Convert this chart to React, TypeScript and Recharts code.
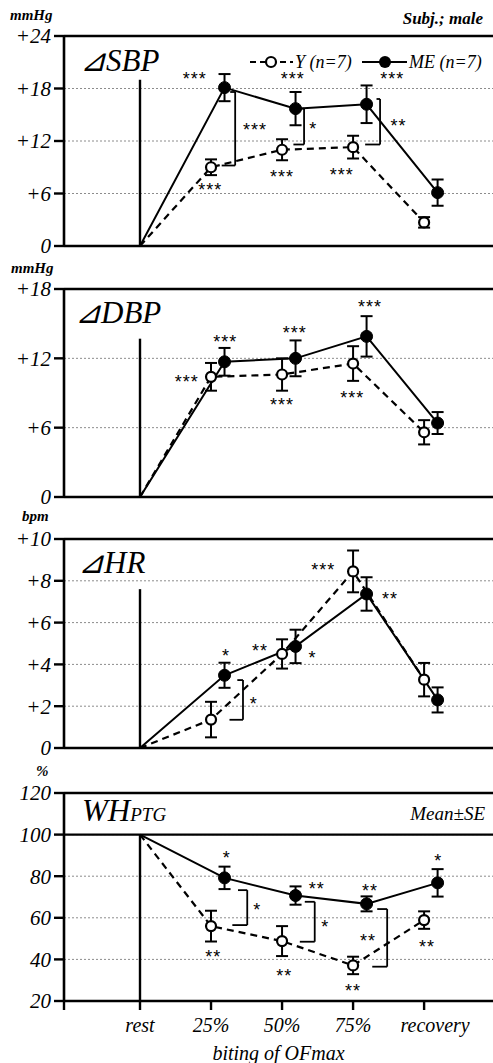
import React from "react";
import {
  ComposedChart,
  Line,
  XAxis,
  YAxis,
  CartesianGrid,
  ReferenceLine,
  ErrorBar,
  Scatter,
} from "recharts";

const SERIF = '"Liberation Serif", "Times New Roman", serif';
const STAR_FONT = '"Liberation Sans", Arial, sans-serif';
const W = 493;
const H = 1063;
const PAD = 14;
const X_DOMAIN = [-1.07, 4.97];

const categories = ["rest", "25%", "50%", "75%", "recovery"];
const catPos = [0, 1, 2, 3, 4];
const meShift = 0.19;

// ⊿SBP (mmHg)
const sbpTicks = [0, 6, 12, 18, 24];
const sbpY = [0, 9.0, 11.0, 11.3, 2.7];
const sbpYSe = [null, 0.9, 1.2, 1.3, 0.6];
const sbpME = [0, 18.1, 15.7, 16.2, 6.1];
const sbpMESe = [null, 1.55, 1.9, 2.15, 1.5];
const sbpStars = [
  { x: 0.77, y: 19.5, t: "***" },
  { x: 2.15, y: 19.5, t: "***" },
  { x: 3.55, y: 19.6, t: "***" },
  { x: 1.62, y: 13.7, t: "***" },
  { x: 2.44, y: 13.8, t: "*" },
  { x: 3.64, y: 14.2, t: "**" },
  { x: 0.99, y: 6.9, t: "***" },
  { x: 2.0, y: 8.4, t: "***" },
  { x: 2.84, y: 8.6, t: "***" },
];
const sbpBrackets = [
  { x: 1.34, y1: 17.6, y2: 9.2, a1: 0.07, a2: 0.19 },
  { x: 2.31, y1: 15.7, y2: 11.6, a1: 0.08, a2: 0.15 },
  { x: 3.38, y1: 16.8, y2: 11.6, a1: 0.05, a2: 0.21 },
];

// ⊿DBP (mmHg)
const dbpTicks = [0, 6, 12, 18];
const dbpY = [0, 10.4, 10.6, 11.55, 5.6];
const dbpYSe = [null, 1.2, 1.4, 1.5, 1.05];
const dbpME = [0, 11.7, 12.0, 13.9, 6.4];
const dbpMESe = [null, 1.2, 1.55, 1.75, 0.95];
const dbpStars = [
  { x: 1.2, y: 13.8, t: "***" },
  { x: 0.66, y: 10.3, t: "***" },
  { x: 2.18, y: 14.5, t: "***" },
  { x: 2.0, y: 8.3, t: "***" },
  { x: 3.24, y: 16.8, t: "***" },
  { x: 2.99, y: 8.9, t: "***" },
];

// ⊿HR (bpm)
const hrTicks = [0, 2, 4, 6, 8, 10];
const hrY = [0, 1.36, 4.5, 8.45, 3.27];
const hrYSe = [null, 0.85, 0.7, 1.0, 0.8];
const hrME = [0, 3.48, 4.86, 7.37, 2.3];
const hrMESe = [null, 0.6, 0.8, 0.8, 0.6];
const hrStars = [
  { x: 1.21, y: 4.6, t: "*" },
  { x: 1.69, y: 4.85, t: "**" },
  { x: 2.43, y: 4.5, t: "*" },
  { x: 2.58, y: 8.7, t: "***" },
  { x: 3.52, y: 7.3, t: "**" },
  { x: 1.6, y: 2.3, t: "*" },
];
const hrBrackets = [{ x: 1.45, y1: 3.25, y2: 1.35, a1: 0.08, a2: 0.19 }];

// WH PTG (%)
const whTicks = [20, 40, 60, 80, 100, 120];
const whY = [100, 56, 48.8, 37.1, 58.9];
const whYSe = [null, 7.4, 7.2, 4.2, 4.2];
const whME = [100, 79.2, 70.7, 66.7, 76.8];
const whMESe = [null, 5.4, 4.4, 3.6, 6.6];
const whStars = [
  { x: 1.22, y: 90.9, t: "*" },
  { x: 1.03, y: 42.9, t: "**" },
  { x: 1.65, y: 65.6, t: "*" },
  { x: 2.49, y: 75.7, t: "**" },
  { x: 2.03, y: 34.1, t: "**" },
  { x: 2.61, y: 57.6, t: "*" },
  { x: 3.24, y: 74.9, t: "**" },
  { x: 3.21, y: 50.9, t: "**" },
  { x: 3.0, y: 26.6, t: "**" },
  { x: 4.2, y: 89, t: "*" },
  { x: 4.04, y: 47.7, t: "**" },
];
const whBrackets = [
  { x: 1.51, y1: 73.3, y2: 56.5, a1: 0.13, a2: 0.21 },
  { x: 2.46, y1: 67.7, y2: 48.5, a1: 0.14, a2: 0.21 },
  { x: 3.48, y1: 64.2, y2: 36.5, a1: 0.14, a2: 0.21 },
];

type Star = { x: number; y: number; t: string };
type Bracket = { x: number; y1: number; y2: number; a1: number; a2: number };

const toSeries = (vals: number[], se: (number | null)[], shift: number) =>
  catPos.map((p, i) => ({ x: i === 0 ? p : p + shift, v: vals[i], se: se[i] }));

const OpenDot = (p: any) =>
  p.index === 0 ? (
    <g key={p.index} />
  ) : (
    <circle key={p.index} cx={p.cx} cy={p.cy} r={5} fill="#fff" stroke="#000" strokeWidth={2.2} />
  );

const FilledDot = (p: any) =>
  p.index === 0 ? (
    <g key={p.index} />
  ) : (
    <circle key={p.index} cx={p.cx} cy={p.cy} r={6} fill="#000" stroke="#000" strokeWidth={1} />
  );

const StarText = (p: any) => (
  <text x={p.cx} y={p.cy + 10} textAnchor="middle" fontSize={18} fontFamily={STAR_FONT} letterSpacing={1} fill="#000">
    {p.payload.t}
  </text>
);

const XTick = (p: any) => {
  const i = p.payload.value;
  if (!Number.isInteger(i)) return <g />;
  const dx = i === 4 ? 11 : 0;
  return (
    <text x={p.x + dx} y={p.y} dy={20} textAnchor="middle" fontSize={20} fontStyle="italic" fontFamily={SERIF} fill="#000">
      {categories[i]}
    </text>
  );
};

const axisLine = { stroke: "#000", strokeWidth: 2.6 };

function Panel(props: {
  top: number;
  height: number;
  ticks: number[];
  plus: boolean;
  yVals: number[];
  ySe: (number | null)[];
  meVals: number[];
  meSe: (number | null)[];
  stars: Star[];
  brackets: Bracket[];
  restTop: number;
  solidY?: number;
  last?: boolean;
}) {
  const { top, height, ticks, plus, stars, brackets, restTop, solidY, last } = props;
  const min = ticks[0];
  const max = ticks[ticks.length - 1];
  const xh = last ? 1063 - (top + height) : 14;
  const yData = toSeries(props.yVals, props.ySe, 0);
  const meData = toSeries(props.meVals, props.meSe, meShift);
  const xTicks = last ? [X_DOMAIN[0], ...catPos] : catPos;

  return (
    <div style={{ position: "absolute", left: 0, top: top - PAD }}>
      <ComposedChart
        width={W}
        height={height + PAD + xh}
        margin={{ top: PAD, right: 0, bottom: 0, left: 0 }}>
        <CartesianGrid vertical={false} stroke="#8c8c8c" strokeDasharray="2 2" />
        <XAxis
          dataKey="x"
          type="number"
          domain={X_DOMAIN}
          ticks={xTicks}
          interval={0}
          allowDataOverflow
          height={xh}
          tickSize={9}
          tickLine={{ stroke: "#000", strokeWidth: 2.4 }}
          axisLine={axisLine}
          tick={last ? <XTick /> : false}
          label={
            last
              ? {
                  value: "biting of OFmax",
                  position: "insideBottom",
                  offset: 3,
                  fill: "#000",
                  fontSize: 20,
                  fontStyle: "italic",
                  fontFamily: SERIF,
                }
              : undefined
          }
        />
        <XAxis
          xAxisId="top"
          orientation="top"
          dataKey="x"
          type="number"
          domain={X_DOMAIN}
          ticks={catPos}
          interval={0}
          allowDataOverflow
          height={0}
          mirror
          tickSize={6}
          axisLine={false}
          tickLine={{ stroke: "#000", strokeWidth: 2 }}
          tick={false}
        />
        <YAxis
          type="number"
          domain={[min, max]}
          ticks={ticks}
          interval={0}
          allowDataOverflow
          width={64}
          tickSize={10}
          tickMargin={3}
          axisLine={axisLine}
          tickLine={{ stroke: "#000", strokeWidth: 2.4 }}
          tickFormatter={(v: number) => (plus && v !== 0 ? `+${v}` : `${v}`)}
          tick={{ fill: "#000", fontSize: 21, fontStyle: "italic", fontFamily: SERIF }}
        />
        <ReferenceLine y={max} stroke="#000" strokeWidth={2.6} />
        {solidY !== undefined && <ReferenceLine y={solidY} stroke="#000" strokeWidth={2.4} />}
        <ReferenceLine
          segment={[
            { x: 0, y: min },
            { x: 0, y: restTop },
          ]}
          stroke="#000"
          strokeWidth={2.4}
        />
        {brackets.map((b, i) => [
          <ReferenceLine
            key={`bv${i}`}
            segment={[
              { x: b.x, y: b.y1 },
              { x: b.x, y: b.y2 },
            ]}
            stroke="#000"
            strokeWidth={1.8}
          />,
          <ReferenceLine
            key={`bt${i}`}
            segment={[
              { x: b.x - b.a1, y: b.y1 },
              { x: b.x, y: b.y1 },
            ]}
            stroke="#000"
            strokeWidth={1.8}
          />,
          <ReferenceLine
            key={`bb${i}`}
            segment={[
              { x: b.x - b.a2, y: b.y2 },
              { x: b.x, y: b.y2 },
            ]}
            stroke="#000"
            strokeWidth={1.8}
          />,
        ])}
        <Line
          data={yData}
          dataKey="v"
          name="Y (n=7)"
          stroke="#000"
          strokeWidth={2.2}
          strokeDasharray="7 5"
          dot={OpenDot}
          activeDot={false}
          isAnimationActive={false}>
          <ErrorBar dataKey="se" width={6} stroke="#000" strokeWidth={2} direction="y" isAnimationActive={false} />
        </Line>
        <Line
          data={meData}
          dataKey="v"
          name="ME (n=7)"
          stroke="#000"
          strokeWidth={2}
          dot={FilledDot}
          activeDot={false}
          isAnimationActive={false}>
          <ErrorBar dataKey="se" width={6} stroke="#000" strokeWidth={2} direction="y" isAnimationActive={false} />
        </Line>
        <Scatter data={stars} dataKey="y" shape={StarText} isAnimationActive={false} />
      </ComposedChart>
    </div>
  );
}

const textBase = { fontFamily: SERIF, fontStyle: "italic" as const, fill: "#000" };

function Overlay() {
  return (
    <svg width={W} height={H} style={{ position: "absolute", left: 0, top: 0, pointerEvents: "none" }}>
      {/* units */}
      <text x={10} y={20} fontSize={15} fontWeight="bold" {...textBase}>mmHg</text>
      <text x={11} y={273} fontSize={15} fontWeight="bold" {...textBase}>mmHg</text>
      <text x={22} y={521} fontSize={15} fontWeight="bold" {...textBase}>bpm</text>
      <text x={36} y={776} fontSize={15} fontWeight="bold" {...textBase}>%</text>
      <text x={483} y={24} fontSize={17} fontWeight="bold" textAnchor="end" {...textBase}>Subj.; male</text>

      {/* panel titles */}
      <text x={80} y={71} fontSize={31} {...textBase}>⊿SBP</text>
      <text x={75} y={323} fontSize={31} {...textBase}>⊿DBP</text>
      <text x={78} y={573} fontSize={31} {...textBase}>⊿HR</text>
      <text x={82} y={821} fontSize={31} {...textBase}>
        WH<tspan fontSize={19}>PTG</tspan>
      </text>
      <text x={485} y={820} fontSize={19} textAnchor="end" {...textBase}>Mean±SE</text>

      {/* legend */}
      <line x1={250} y1={62} x2={293} y2={62} stroke="#000" strokeWidth={2.2} strokeDasharray="6 4" />
      <circle cx={271} cy={62} r={5} fill="#fff" stroke="#000" strokeWidth={2.2} />
      <text x={295} y={68} fontSize={18} {...textBase}>Y (n=7)</text>
      <line x1={362} y1={62} x2={407} y2={62} stroke="#000" strokeWidth={2} />
      <circle cx={385} cy={62} r={6} fill="#000" />
      <text x={409} y={68} fontSize={18} {...textBase}>ME (n=7)</text>
    </svg>
  );
}

export default function App() {
  return (
    <div
      style={{
        position: "absolute",
        left: 0,
        top: 0,
        width: W,
        height: H,
        overflow: "hidden",
        background: "#fff",
      }}>
      <Panel
        top={36}
        height={210}
        ticks={sbpTicks}
        plus
        yVals={sbpY}
        ySe={sbpYSe}
        meVals={sbpME}
        meSe={sbpMESe}
        stars={sbpStars}
        brackets={sbpBrackets}
        restTop={19}
      />
      <Panel
        top={289}
        height={208}
        ticks={dbpTicks}
        plus
        yVals={dbpY}
        ySe={dbpYSe}
        meVals={dbpME}
        meSe={dbpMESe}
        stars={dbpStars}
        brackets={[]}
        restTop={13.7}
      />
      <Panel
        top={539}
        height={209}
        ticks={hrTicks}
        plus
        yVals={hrY}
        ySe={hrYSe}
        meVals={hrME}
        meSe={hrMESe}
        stars={hrStars}
        brackets={hrBrackets}
        restTop={7.6}
      />
      <Panel
        top={793}
        height={208}
        ticks={whTicks}
        plus={false}
        yVals={whY}
        ySe={whYSe}
        meVals={whME}
        meSe={whMESe}
        stars={whStars}
        brackets={whBrackets}
        restTop={100}
        solidY={100}
        last
      />
      <Overlay />
    </div>
  );
}
